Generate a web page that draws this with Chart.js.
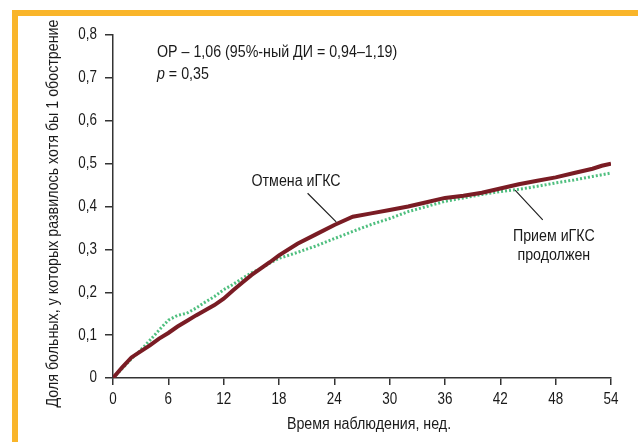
<!DOCTYPE html>
<html>
<head>
<meta charset="utf-8">
<script src="https://cdn.jsdelivr.net/npm/chart.js@4"></script>
<style>
  html, body { margin: 0; padding: 0; background: #fff; }
  #frame {
    position: absolute; left: 12px; top: 10px; width: 620px; height: 426px;
    border-top: 6px solid #f9b52a; border-left: 6px solid #f9b52a;
  }
  #wrap { position: relative; width: 620px; height: 426px; }
</style>
</head>
<body>
<div id="frame"><div id="wrap"><canvas id="km-chart"></canvas></div></div>
<script>
const FONT = "'Liberation Sans', Arial, sans-serif";
const NARROW = 0.84;   // сжатие текста по горизонтали (узкий шрифт оригинала)
const NOTE_NARROW = 0.89;

// недели наблюдения
const weeks = [0, 1, 2, 3, 4, 5, 6, 7, 8, 9, 10, 11, 12, 13, 14, 15, 16, 17, 18, 20, 22, 24, 26, 28, 30, 32, 34, 36, 38, 40, 42, 44, 46, 48, 50, 52, 53, 54];
// Отмена иГКС
const stopICS = [0, 0.025, 0.048, 0.062, 0.076, 0.092, 0.105, 0.12, 0.133, 0.146, 0.158, 0.17, 0.185, 0.204, 0.222, 0.24, 0.255, 0.27, 0.286, 0.313, 0.335, 0.357, 0.376, 0.384, 0.392, 0.4, 0.41, 0.42, 0.425, 0.432, 0.442, 0.452, 0.46, 0.468, 0.478, 0.488, 0.495, 0.5];
// Прием иГКС продолжен
const keepICS = [0, 0.022, 0.045, 0.065, 0.088, 0.112, 0.135, 0.146, 0.151, 0.163, 0.177, 0.19, 0.206, 0.218, 0.232, 0.245, 0.255, 0.268, 0.279, 0.293, 0.308, 0.325, 0.342, 0.358, 0.372, 0.388, 0.4, 0.412, 0.42, 0.428, 0.435, 0.44, 0.447, 0.455, 0.462, 0.47, 0.474, 0.478];

const yTickLabels = ["0", "0,1", "0,2", "0,3", "0,4", "0,5", "0,6", "0,7", "0,8"];
const xTickLabels = ["0", "6", "12", "18", "24", "30", "36", "42", "48", "54"];

const toPoints = vals => vals.map((v, i) => ({ x: weeks[i], y: v }));

// узкий шрифт: поджимаем каждую строку через maxWidth
const narrowText = {
  id: "narrowText",
  beforeInit(chart) {
    const ctx = chart.ctx;
    const base = CanvasRenderingContext2D.prototype.fillText;
    ctx.fillText = function (t, x, y, mw) {
      if (mw === undefined) mw = this.measureText(t).width * NARROW;
      return base.call(this, t, x, y, mw);
    };
  }
};

// подписи осей, текст и выноски
const notes = {
  id: "notes",
  afterDatasetsDraw(chart) {
    const { ctx, chartArea, scales: { x, y } } = chart;
    const put = (t, px, py, k) => ctx.fillText(t, px, py, ctx.measureText(t).width * k);
    ctx.save();
    ctx.fillStyle = "#1a1a1a";
    ctx.font = "16px " + FONT;
    ctx.textBaseline = "middle";

    ctx.textAlign = "left";
    put("ОР – 1,06 (95%-ный ДИ = 0,94–1,19)", x.getPixelForValue(4.77), y.getPixelForValue(0.76), NOTE_NARROW);
    ctx.font = "italic 16px " + FONT;
    const px = x.getPixelForValue(4.77), py = y.getPixelForValue(0.707);
    put("p", px, py, NOTE_NARROW);
    const pw = ctx.measureText("p").width * NOTE_NARROW;
    ctx.font = "16px " + FONT;
    put(" = 0,35", px + pw, py, NOTE_NARROW);

    ctx.textAlign = "center";
    put("Отмена иГКС", x.getPixelForValue(19.85), y.getPixelForValue(0.457), NOTE_NARROW);
    put("Прием иГКС", x.getPixelForValue(47.8), y.getPixelForValue(0.329), NOTE_NARROW);
    put("продолжен", x.getPixelForValue(47.8), y.getPixelForValue(0.285), NOTE_NARROW);

    // названия осей
    put("Время наблюдения, нед.", (x.left + x.right) / 2 + 7, x.bottom - 17, NOTE_NARROW);
    ctx.save();
    ctx.translate(y.left + 36, (chartArea.top + chartArea.bottom) / 2 + 7);
    ctx.rotate(-Math.PI / 2);
    ctx.fillText("Доля больных, у которых развилось хотя бы 1 обострение", 0, 0, 388);
    ctx.restore();

    ctx.strokeStyle = "#222";
    ctx.lineWidth = 1.2;
    ctx.beginPath();
    ctx.moveTo(x.getPixelForValue(21.1), y.getPixelForValue(0.431));
    ctx.lineTo(x.getPixelForValue(24.2), y.getPixelForValue(0.364));
    ctx.moveTo(x.getPixelForValue(43.6), y.getPixelForValue(0.438));
    ctx.lineTo(x.getPixelForValue(46.6), y.getPixelForValue(0.369));
    ctx.stroke();
    ctx.restore();
  }
};

Chart.defaults.font.family = FONT;
Chart.defaults.font.size = 16;
Chart.defaults.color = "#1a1a1a";

const chartKM = new Chart(document.getElementById("km-chart"), {
  type: "line",
  data: {
    datasets: [
      {
        label: "Отмена иГКС",
        data: toPoints(stopICS),
        borderColor: "#7a1c24",
        borderWidth: 4,
        pointRadius: 0,
        tension: 0
      },
      {
        label: "Прием иГКС продолжен",
        data: toPoints(keepICS),
        borderColor: "#4fbf7f",
        borderWidth: 3,
        borderDash: [2, 2],
        pointRadius: 0,
        tension: 0
      }
    ]
  },
  options: {
    responsive: true,
    maintainAspectRatio: false,
    animation: false,
    layout: { padding: { top: 19, right: 27, left: 0, bottom: 0 } },
    plugins: { legend: { display: false }, tooltip: { enabled: false } },
    scales: {
      x: {
        type: "linear",
        min: 0, max: 54,
        afterFit: s => { s.height = 64; },
        border: { display: true, color: "#333", width: 1.5 },
        grid: { drawOnChartArea: false, drawTicks: true, tickLength: 7, color: "#333", lineWidth: 1.5 },
        ticks: {
          stepSize: 6, padding: 5,
          callback: (v, i) => xTickLabels[i]
        }
      },
      y: {
        min: 0, max: 0.8,
        afterFit: s => { s.width = 95; },
        border: { display: true, color: "#333", width: 1.5 },
        grid: { drawOnChartArea: false, drawTicks: true, tickLength: 8, color: "#333", lineWidth: 1.5 },
        ticks: {
          stepSize: 0.1, padding: 8,
          callback: (v, i) => yTickLabels[i]
        }
      }
    }
  },
  plugins: [narrowText, notes]
});
</script>
</body>
</html>
